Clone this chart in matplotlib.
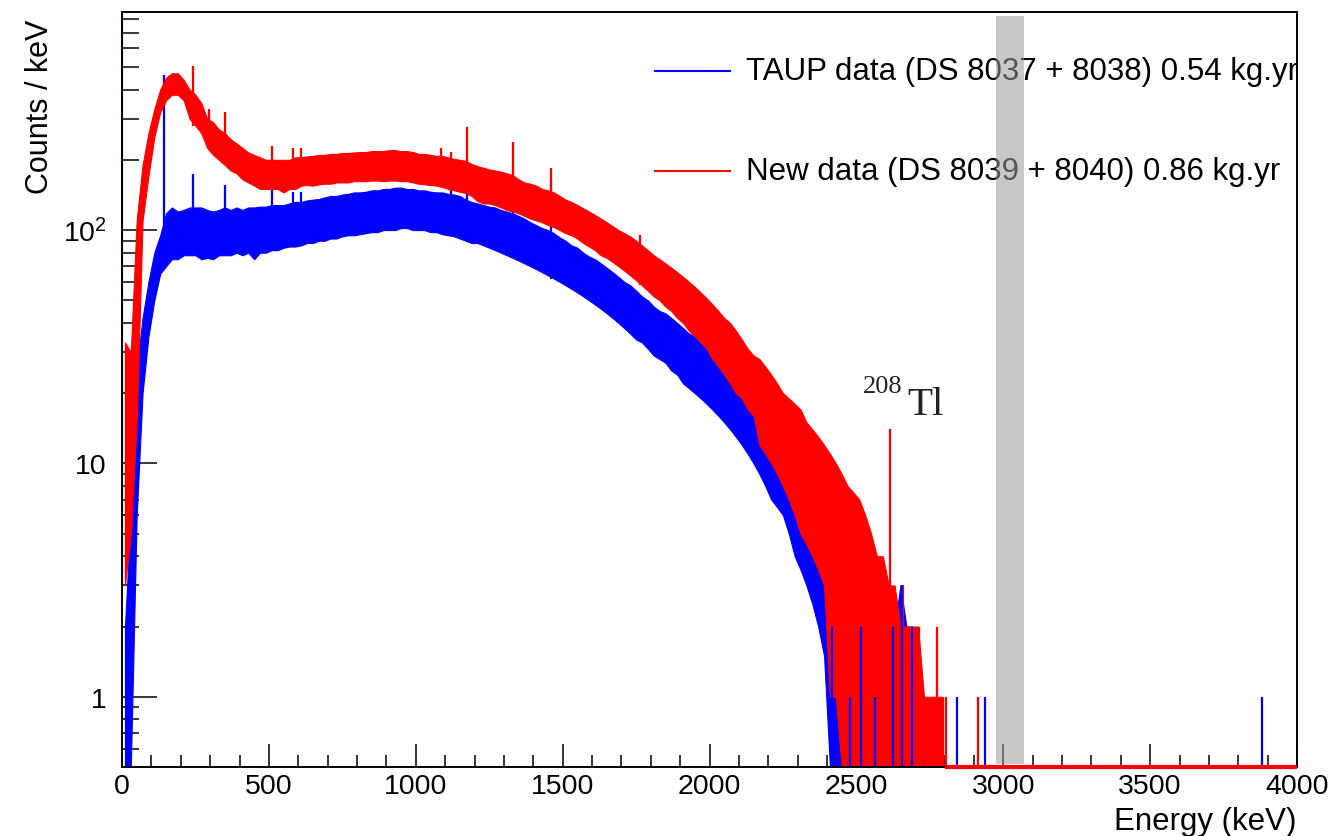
import numpy as np
import matplotlib
matplotlib.use("Agg")
import matplotlib.pyplot as plt
from matplotlib.ticker import MultipleLocator, FixedLocator, FixedFormatter, NullFormatter

plt.rcParams['font.family'] = ['Liberation Sans', 'DejaVu Sans']

# energy bins (keV), 20 keV wide; band = lower / upper extent of the 1 keV spectrum in each bin
bin_width = 20
edges = np.arange(0, 2800 + bin_width, bin_width)
centers = edges[:-1] + bin_width / 2

# New data (DS 8039 + 8040), counts / keV
red_lo = [3, 5, 15, 110, 170, 250, 320, 360, 380, 380,
          360, 300, 280, 260, 225, 210, 200, 190, 180, 175,
          165, 160, 155, 150, 150, 150, 150, 145, 150, 150,
          155, 156, 155, 157, 158, 158, 160, 160, 160, 162,
          162, 162, 163, 163, 162, 163, 163, 162, 162, 160,
          158, 157, 156, 155, 153, 150, 148, 146, 144, 140,
          133, 130, 130, 128, 125, 122, 120, 118, 115, 112,
          110, 108, 105, 103, 100, 97, 95, 92, 88, 85,
          82, 78, 76, 73, 70, 67, 64, 61, 58, 55,
          52, 50, 47, 45, 42, 40, 37, 35, 33, 31,
          28, 26, 24, 22, 20, 19, 17, 16, 12, 11,
          10, 9, 8, 7, 6, 5, 4.5, 4, 3.5, 3,
          1, 1, 0.5, 0.5, 0.5, 0.5, 0.5, 0.5, 0.5, 0.5,
          0.5, 0.5, 0.5, 0.5, 0.5, 0.5, 0.5, 0.5, 0.5, 0.5]
red_hi = [33, 30, 110, 190, 260, 330, 400, 450, 470, 470,
          440, 400, 380, 350, 300, 290, 270, 260, 245, 235,
          225, 215, 210, 205, 200, 200, 200, 200, 200, 205,
          205, 207, 208, 210, 210, 212, 212, 214, 214, 215,
          216, 216, 218, 218, 218, 220, 220, 218, 218, 216,
          212, 212, 210, 208, 208, 205, 202, 200, 198, 192,
          188, 185, 182, 180, 178, 175, 172, 165, 160, 158,
          155, 150, 148, 145, 140, 135, 132, 128, 124, 120,
          116, 112, 108, 104, 100, 97, 94, 90, 86, 82,
          78, 75, 72, 69, 66, 63, 60, 57, 54, 51,
          48, 45, 42, 40, 37, 34, 31, 29, 28, 26,
          24, 22, 20, 19, 18, 17, 15, 14, 13, 12,
          11, 10, 9, 8, 7.5, 7, 6, 5, 4, 4,
          3, 3, 2, 2, 2, 2, 1, 1, 1, 1]
red_peak_E = [1, 240, 295, 352, 511, 583, 609, 1086, 1120, 1173, 1332, 1460, 1765,
              2614, 2660, 2713, 2774, 2795, 2806, 2914]
red_peak_val = [2000, 505, 330, 320, 230, 225, 225, 225, 215, 277, 238, 185, 95,
                14, 3, 2, 2, 1, 1, 1]
red_empty_from = 2800

# TAUP data (DS 8037 + 8038), counts / keV
blue_lo = [0.5, 0.5, 6, 20, 35, 50, 65, 70, 75, 75,
           78, 78, 78, 75, 76, 75, 78, 78, 78, 80,
           78, 80, 75, 80, 80, 82, 82, 84, 85, 85,
           86, 88, 88, 90, 90, 92, 92, 94, 95, 95,
           96, 97, 98, 98, 100, 100, 100, 102, 102, 100,
           100, 100, 98, 98, 96, 95, 94, 92, 90, 88,
           88, 86, 84, 82, 80, 78, 76, 74, 72, 70,
           68, 66, 64, 62, 60, 58, 56, 54, 52, 50,
           48, 46, 44, 42, 40, 38, 36, 34, 33, 31,
           29, 28, 27, 25, 24, 22, 21, 20, 19, 18,
           17, 16, 15, 14, 13, 12, 11, 10, 9, 8,
           7, 6.5, 6, 5, 4, 3.5, 3, 2.5, 2, 1.5,
           0.5, 0.5, 0.5, 0.5, 0.5, 0.5, 0.5, 0.5, 0.5, 0.5,
           0.5, 0.5, 0.5, 0.5, 0.5, 0.5, 0.5, 0.5, 0.5, 0.5]
blue_hi = [2, 6, 25, 42, 60, 80, 95, 118, 125, 120,
           122, 125, 125, 125, 122, 120, 122, 125, 122, 125,
           122, 125, 125, 126, 126, 128, 128, 128, 130, 132,
           132, 134, 135, 136, 138, 140, 140, 142, 143, 145,
           145, 146, 148, 148, 150, 150, 152, 152, 150, 150,
           148, 148, 146, 145, 145, 143, 142, 140, 135, 132,
           130, 128, 126, 125, 122, 120, 118, 115, 112, 108,
           105, 102, 100, 97, 93, 90, 86, 84, 80, 77,
           75, 72, 69, 66, 63, 60, 58, 55, 52, 50,
           47, 45, 44, 42, 40, 38, 36, 35, 33, 31,
           30, 28, 26, 25, 24, 22, 21, 19, 17, 16,
           14, 13, 12, 11, 10, 9, 8, 7, 6, 5,
           4, 4, 3, 3, 2, 2, 2, 2, 2, 2,
           1, 2, 3, 2, 2, 0.5, 0.5, 0.5, 0.5, 0.5]
blue_peak_E = [143, 240, 352, 511, 583, 609, 1120, 1173, 1332, 1460,
               2417, 2478, 2515, 2562, 2625, 2654, 2690, 2842, 2938, 3881]
blue_peak_val = [460, 174, 156, 150, 145, 145, 152, 180, 157, 160,
                 2, 1, 2, 1, 2, 3, 2, 1, 1, 1]

labels = ['TAUP data (DS 8037 + 8038) 0.54 kg.yr', 'New data (DS 8039 + 8040) 0.86 kg.yr']
colors = ['blue', 'red']
roi = (2975, 3071)  # grey band
YMIN, YMAX = 0.5, 860

W, H = 1332, 837
fig = plt.figure(figsize=(W / 100, H / 100), dpi=100)
ax = fig.add_axes([122 / W, 1 - 768 / H, 1175 / W, 755 / H])
ax.set_yscale('log')
ax.set_xlim(0, 4000)
ax.set_ylim(YMIN, YMAX)


def draw_band(lo, hi, color, z):
    ax.fill_between(centers, lo, hi, color=color, lw=0.8, edgecolor=color, zorder=z)


def draw_peaks(E, val, lo, color, z):
    E = np.asarray(E, float)
    idx = (E // bin_width).astype(int)
    base = np.array([lo[i] if i < len(lo) else YMIN for i in idx])
    ax.vlines(E, base, val, color=color, lw=1.6, zorder=z)


draw_band(blue_lo, blue_hi, 'blue', 2)
bE = np.array(blue_peak_E)
bV = np.array(blue_peak_val)
draw_peaks(bE[bE < 2400], bV[bE < 2400], blue_lo, 'blue', 2)
draw_band(red_lo, red_hi, 'red', 3)
draw_peaks(red_peak_E, red_peak_val, red_lo, 'red', 3)
draw_peaks(bE[bE >= 2400], bV[bE >= 2400], blue_lo, 'blue', 4)
ax.hlines(YMIN, red_empty_from, 4000, color='red', lw=3, zorder=6, clip_on=False)

# grey band
ax.axvspan(roi[0], roi[1], ymin=3 / 755, ymax=751 / 755, color='#9b9b9b', alpha=0.55, lw=0, zorder=10)

# axes styling
for s in ax.spines.values():
    s.set_linewidth(1.4)
    s.set_zorder(5)
ax.xaxis.set_major_locator(MultipleLocator(500))
ax.xaxis.set_minor_locator(MultipleLocator(100))
ax.yaxis.set_major_locator(FixedLocator([1, 10, 100]))
ax.yaxis.set_major_formatter(FixedFormatter(['1', '10', r'$\mathdefault{10^{2}}$']))
minors = [0.6, 0.7, 0.8, 0.9] + list(range(2, 10)) + list(range(20, 100, 10)) + list(range(200, 900, 100))
ax.yaxis.set_minor_locator(FixedLocator(minors))
ax.yaxis.set_minor_formatter(NullFormatter())
ax.tick_params(which='both', direction='in', top=False, right=False, width=1.1, labelsize=20.5)
ax.tick_params(axis='x', which='major', length=16.5, pad=4)
ax.tick_params(axis='x', which='minor', length=8.5)
ax.tick_params(axis='y', which='major', length=25, pad=11)
ax.tick_params(axis='y', which='minor', length=12)

fig.text(40 / W, 1 - 20 / H, 'Counts / keV', rotation=90, ha='center', va='top', fontsize=22)
fig.text(1297 / W, 1 - 830 / H, 'Energy (keV)', ha='right', va='baseline', fontsize=22.5)

# legend
for lab, col, ly in zip(labels, colors, [72, 172]):
    yy = (768 - ly) / 755
    ax.plot([(655 - 122) / 1175, (730 - 122) / 1175], [yy, yy], color=col, lw=1.5,
            transform=ax.transAxes, zorder=7)
    ax.text((746 - 122) / 1175, yy, lab, transform=ax.transAxes, ha='left', va='center',
            fontsize=22.5, zorder=7)

# 208Tl label
fig.text(863 / W, 1 - 393 / H, '208', fontsize=19, family='Liberation Serif', color='#222222', va='baseline')
fig.text(907 / W, 1 - 415 / H, 'Tl', fontsize=29.5, family='Liberation Serif', color='#222222', va='baseline')

fig.savefig('out.png', dpi=100)
